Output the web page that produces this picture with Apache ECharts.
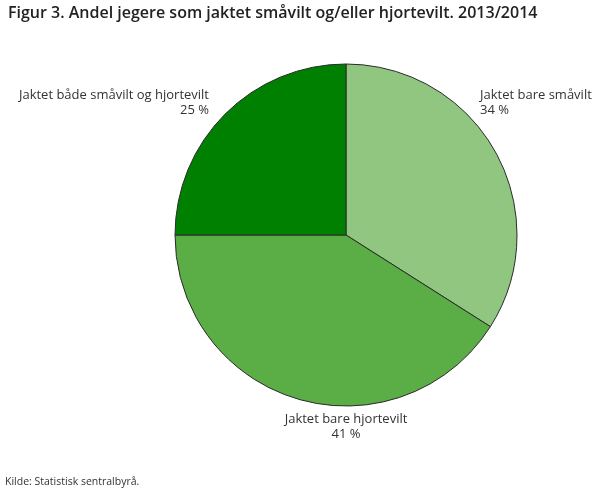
<!DOCTYPE html>
<html>
<head>
<meta charset="utf-8">
<script src="https://cdn.jsdelivr.net/npm/echarts@6/dist/echarts.min.js"></script>
<style>
html,body{margin:0;padding:0;background:#fff;}
#chart{width:610px;height:488px;}
</style>
</head>
<body>
<div id="chart"></div>
<script>
var categories = ['Jaktet bare småvilt', 'Jaktet bare hjortevilt', 'Jaktet både småvilt og hjortevilt'];
var values = [34, 41, 25];
var colors = ['#90c67f', '#5bad46', '#008000'];

var chart = echarts.init(document.getElementById('chart'), null, {renderer: 'canvas'});
var data = categories.map(function (c, i) {
  return {name: c, value: values[i], itemStyle: {color: colors[i]}};
});
var labelPos = [
  {x: 480, y: 103, align: 'left'},
  {x: 346, y: 427, align: 'center'},
  {x: 209, y: 103, align: 'right'}
];
chart.setOption({
  animation: false,
  title: [{
    text: 'Figur 3. Andel jegere som jaktet småvilt og/eller hjortevilt. 2013/2014',
    left: 3, top: 0,
    textStyle: {fontFamily: 'Open Sans', fontSize: 16, fontWeight: 600, color: '#222'}
  }, {
    text: 'Kilde: Statistisk sentralbyrå.',
    left: 0, top: 472,
    textStyle: {fontFamily: 'Open Sans', fontSize: 10.5, fontWeight: 'normal', color: '#333'}
  }],
  series: [{
    type: 'pie',
    center: [346, 235],
    radius: 171,
    startAngle: 90,
    clockwise: true,
    data: data,
    itemStyle: {borderColor: '#2a2a2a', borderWidth: 1},
    label: {
      show: true,
      position: 'outside',
      overflow: 'none',
      formatter: function (p) { return p.name + '\n' + p.value + ' %'; },
      fontFamily: 'Open Sans', fontSize: 13, color: '#333', lineHeight: 15
    },
    labelLine: {show: false},
    labelLayout: function (p) {
      var l = labelPos[p.dataIndex];
      return {x: l.x, y: l.y, align: l.align, verticalAlign: 'middle'};
    },
    emphasis: {disabled: true}
  }]
});
</script>
</body>
</html>
